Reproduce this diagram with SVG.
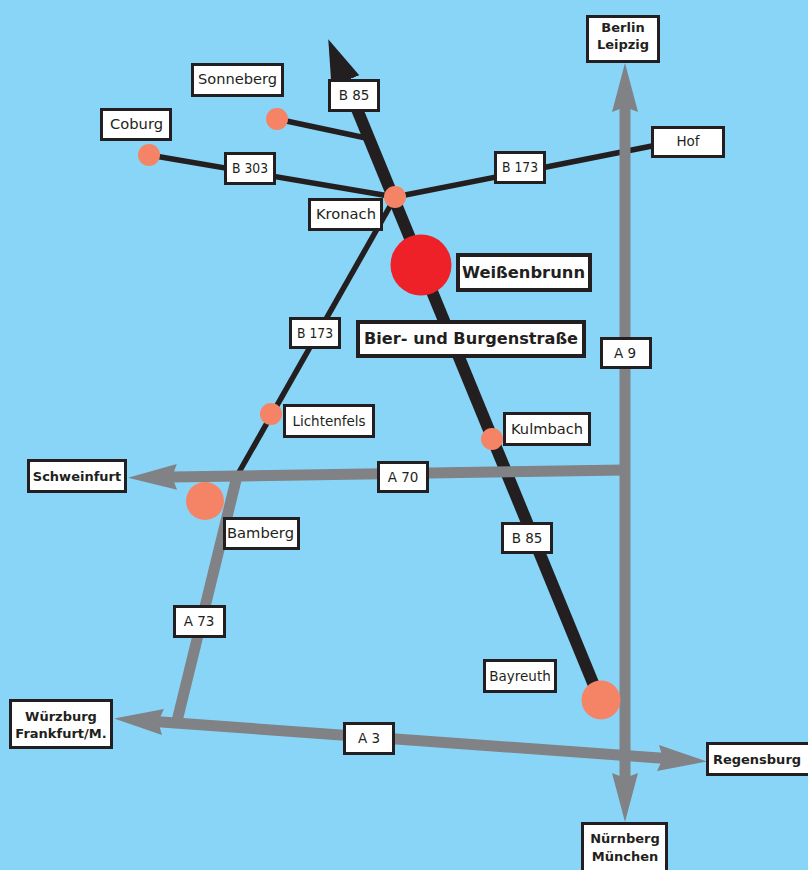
<svg xmlns="http://www.w3.org/2000/svg" width="808" height="870" viewBox="0 0 808 870">
<style>
.box{fill:#fff;stroke:#231f20;stroke-width:3}
.heavy{stroke-width:4}
text{font-family:"DejaVu Sans","Liberation Sans",sans-serif;font-size:13.5px;fill:#231f20;text-anchor:middle}
.b{font-weight:bold;font-size:13px}
.big{font-weight:bold;font-size:16px}
.rd{fill:none;stroke:#231f20}
.gr{fill:none;stroke:#808285;stroke-width:11}
.p{fill:#f58466}
</style>
<defs>
<marker id="ga" markerUnits="userSpaceOnUse" markerWidth="50" markerHeight="28" viewBox="0 -14 50 28" refX="5" refY="0" orient="auto-start-reverse"><path d="M0,-13L49,0L0,13L5,0Z" fill="#808285"/></marker>
<marker id="ba" markerUnits="userSpaceOnUse" markerWidth="46" markerHeight="32" viewBox="0 -16 46 32" refX="1" refY="0" orient="auto"><path d="M0,-15L45,0L0,15Z" fill="#231f20"/></marker>
</defs>
<rect width="808" height="870" fill="#89d5f7"/>
<g id="connectors">
<path class="rd" stroke-width="12" d="M600,700L345,80" marker-end="url(#ba)"/>
<path class="rd" stroke-width="5.5" d="M277,119L366,138"/>
<path class="rd" stroke-width="5.5" d="M149,155L395,197"/>
<path class="rd" stroke-width="5.5" d="M395,197L652,146"/>
<path class="rd" stroke-width="5.5" d="M393,201L238,474"/>
<path class="gr" d="M625,107V778" marker-start="url(#ga)" marker-end="url(#ga)"/>
<path class="gr" d="M158,721.700L663,758.300" marker-start="url(#ga)" marker-end="url(#ga)"/>
<path class="gr" d="M625,470L172,477" marker-end="url(#ga)"/>
<path class="gr" d="M238,472L177,721"/>
</g>
<g id="road-labels">
<g id="b85-north"><rect class="box" x="329.500" y="80.500" width="49" height="30"/><text x="354" y="100">B 85</text></g>
<g id="b303"><rect class="box" x="225.500" y="153.500" width="49" height="30"/><text x="250" y="173" textLength="36" lengthAdjust="spacingAndGlyphs">B 303</text></g>
<g id="b173-east"><rect class="box" x="495.500" y="152.500" width="49" height="30"/><text x="520" y="172" textLength="36" lengthAdjust="spacingAndGlyphs">B 173</text></g>
<g id="b173-south"><rect class="box" x="290.500" y="318.500" width="49" height="29"/><text x="315" y="338" textLength="36" lengthAdjust="spacingAndGlyphs">B 173</text></g>
<g id="a9"><rect class="box" x="601.500" y="338.500" width="49" height="29"/><text x="625" y="358">A 9</text></g>
<g id="a70"><rect class="box" x="378.500" y="462.500" width="49" height="29"/><text x="403" y="482">A 70</text></g>
<g id="b85-south"><rect class="box" x="502.500" y="523.500" width="49" height="29"/><text x="527" y="543">B 85</text></g>
<g id="a73"><rect class="box" x="174.500" y="606.500" width="50" height="30"/><text x="199" y="626">A 73</text></g>
<g id="a3"><rect class="box" x="344.500" y="723.500" width="49" height="30"/><text x="369" y="743">A 3</text></g>
</g>
<g id="berlin-leipzig"><rect class="box" x="587.500" y="16.500" width="71" height="45"/><text class="b" x="623" y="31.500">Berlin</text><text class="b" x="623" y="49">Leipzig</text></g>
<g id="sonneberg"><circle class="p" cx="277" cy="119" r="11"/><rect class="box" x="192.500" y="64.500" width="90" height="31"/><text x="237.500" y="84" textLength="79" lengthAdjust="spacingAndGlyphs">Sonneberg</text></g>
<g id="coburg"><circle class="p" cx="149" cy="155" r="11"/><rect class="box" x="101.500" y="109.500" width="69" height="30"/><text x="136.500" y="129" textLength="53" lengthAdjust="spacingAndGlyphs">Coburg</text></g>
<g id="hof"><rect class="box" x="652.500" y="127.500" width="71" height="29"/><text x="688" y="146">Hof</text></g>
<g id="kronach"><circle class="p" cx="395" cy="197" r="11"/><rect class="box" x="309.500" y="199.500" width="72" height="30"/><text x="346" y="219" textLength="60" lengthAdjust="spacingAndGlyphs">Kronach</text></g>
<g id="weissenbrunn"><circle cx="421" cy="265" r="30.500" fill="#ee2028"/><rect class="box heavy" x="458" y="255" width="132" height="35"/><text class="big" x="523.500" y="278" textLength="123" lengthAdjust="spacingAndGlyphs">Weißenbrunn</text></g>
<g id="bier-und-burgenstrasse"><rect class="box heavy" x="358" y="322" width="226" height="34"/><text class="big" x="471" y="344" textLength="214" lengthAdjust="spacingAndGlyphs">Bier- und Burgenstraße</text></g>
<g id="lichtenfels"><circle class="p" cx="271" cy="414" r="11"/><rect class="box" x="284.500" y="405.500" width="89" height="31"/><text x="329" y="426">Lichtenfels</text></g>
<g id="kulmbach"><circle class="p" cx="492" cy="439" r="11"/><rect class="box" x="504.500" y="413.500" width="85" height="31"/><text x="547" y="434" textLength="72" lengthAdjust="spacingAndGlyphs">Kulmbach</text></g>
<g id="schweinfurt"><rect class="box" x="28.500" y="460.500" width="97" height="31"/><text class="b" x="77" y="481">Schweinfurt</text></g>
<g id="bamberg"><circle class="p" cx="205" cy="501" r="19"/><rect class="box" x="224.500" y="518.500" width="74" height="30"/><text x="260.500" y="538" textLength="67" lengthAdjust="spacingAndGlyphs">Bamberg</text></g>
<g id="bayreuth"><circle class="p" cx="601" cy="700" r="19.500"/><rect class="box" x="484.500" y="660.500" width="71" height="31"/><text x="520" y="681">Bayreuth</text></g>
<g id="wuerzburg-frankfurt"><rect class="box" x="10.500" y="700.500" width="101" height="47"/><text class="b" x="61" y="721">Würzburg</text><text class="b" x="61" y="738">Frankfurt/M.</text></g>
<g id="regensburg"><rect class="box" x="707.500" y="743.500" width="102" height="31"/><text class="b" x="757" y="764">Regensburg</text></g>
<g id="nuernberg-muenchen"><rect class="box" x="582.500" y="823.500" width="84" height="50"/><text class="b" x="625" y="843">Nürnberg</text><text class="b" x="625" y="861">München</text></g>
</svg>
